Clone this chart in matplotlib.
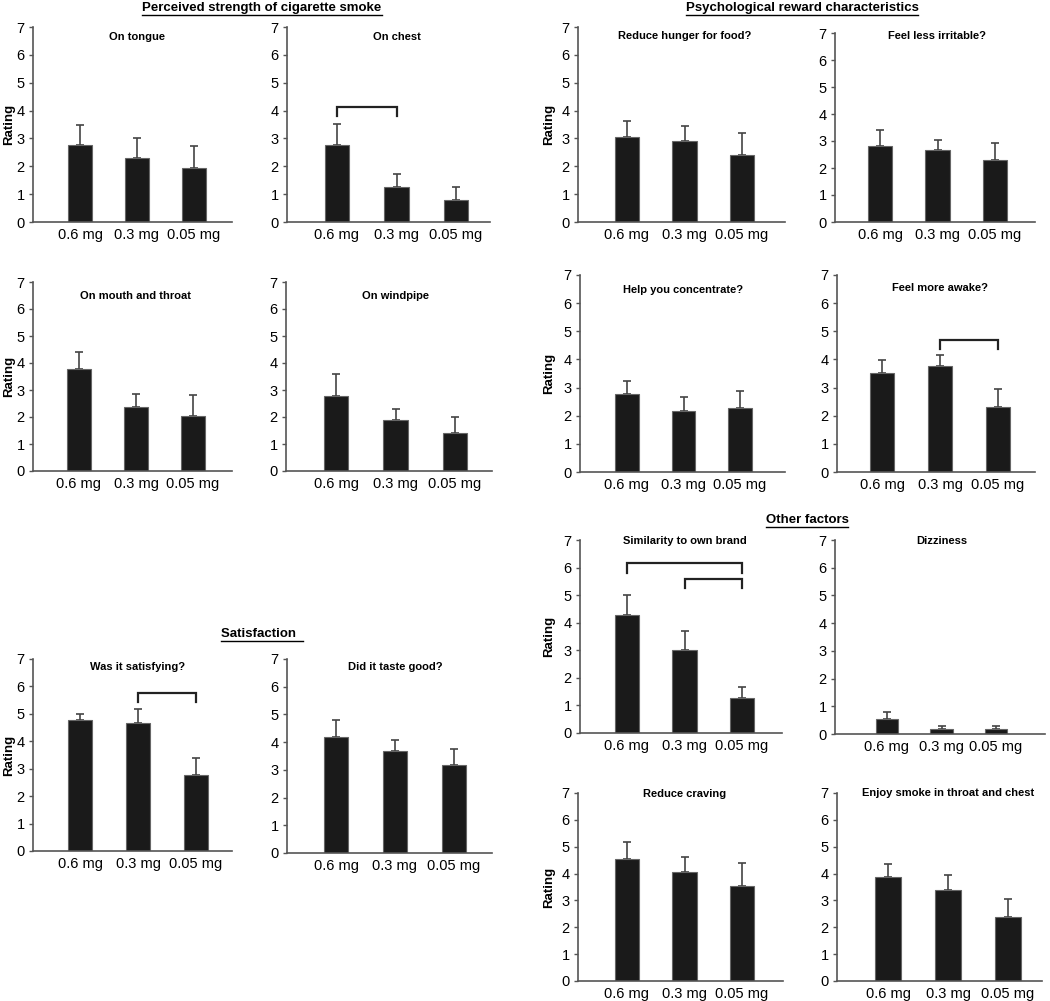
import numpy as np
import matplotlib
matplotlib.use('Agg')
import matplotlib.pyplot as plt
from matplotlib.lines import Line2D

plt.rcParams['font.family'] = ['Liberation Sans', 'DejaVu Sans']

doses = ['0.6 mg', '0.3 mg', '0.05 mg']

# means and upper error (SEM)
tongue = [2.78, 2.31, 1.93]
tongue_err = [0.71, 0.72, 0.79]
chest = [2.78, 1.27, 0.79]
chest_err = [0.75, 0.46, 0.47]
mouth = [3.76, 2.38, 2.02]
mouth_err = [0.65, 0.47, 0.80]
windpipe = [2.78, 1.90, 1.41]
windpipe_err = [0.80, 0.41, 0.60]

hunger = [3.04, 2.90, 2.40]
hunger_err = [0.58, 0.56, 0.78]
irritable = [2.81, 2.68, 2.28]
irritable_err = [0.59, 0.36, 0.66]
concentrate = [2.78, 2.15, 2.28]
concentrate_err = [0.46, 0.52, 0.61]
awake = [3.51, 3.76, 2.30]
awake_err = [0.48, 0.41, 0.65]

satisfying = [4.79, 4.66, 2.77]
satisfying_err = [0.22, 0.51, 0.62]
taste = [4.20, 3.69, 3.18]
taste_err = [0.61, 0.39, 0.58]

similarity = [4.27, 3.02, 1.26]
similarity_err = [0.75, 0.67, 0.41]
dizziness = [0.55, 0.17, 0.17]
dizziness_err = [0.26, 0.12, 0.12]
craving = [4.56, 4.05, 3.52]
craving_err = [0.61, 0.58, 0.88]
enjoy = [3.88, 3.40, 2.39]
enjoy_err = [0.47, 0.55, 0.65]

# significance brackets: (from bar, to bar, height, foot)
chest_sig = [(0, 1, 4.13, 3.80)]
awake_sig = [(1, 2, 4.70, 4.38)]
satisfying_sig = [(1, 2, 5.76, 5.45)]
similarity_sig = [(0, 2, 6.17, 5.81), (1, 2, 5.60, 5.27)]

W, H = 1050, 1001
fig = plt.figure(figsize=(W / 100, H / 100), dpi=100)

DARK = '#1a1a1a'
GREY = '#555555'


def panel(box, title, means, errs, rating_x=None, sig=(), title_dy=10):
    # box = left, right, top, bottom, first bar centre, last bar centre (pixels)
    x0, x1, top, bot, c0, c2 = box
    ax = fig.add_axes([x0 / W, 1 - bot / H, (x1 - x0) / W, (bot - top) / H])
    s = (c2 - c0) / 2
    x = np.arange(3)
    ax.bar(x, means, width=0.42, color=DARK, edgecolor='#666666', linewidth=0.8, zorder=2)
    ax.errorbar(x, means, yerr=[np.zeros(3), errs], fmt='none', ecolor='#444444',
                elinewidth=1.2, capsize=3, capthick=1.2, zorder=1)
    for a, b, h, foot in sig:
        ax.plot([a, a, b, b], [foot, h, h, foot], color='#222222', lw=1.6,
                solid_joinstyle='miter', zorder=3)
    ax.set_xlim((x0 - c0) / s, (x1 - c0) / s)
    ax.set_ylim(0, 7)
    ax.set_yticks(range(8))
    ax.set_xticks(x)
    ax.set_xticklabels(doses)
    for side in ('top', 'right'):
        ax.spines[side].set_visible(False)
    for side in ('left', 'bottom'):
        ax.spines[side].set_color(GREY)
        ax.spines[side].set_linewidth(1.2)
    ax.tick_params(axis='y', length=3, width=1, color=GREY, labelsize=10.5, pad=3)
    ax.tick_params(axis='x', length=0, labelsize=10.5, pad=4)
    if rating_x is not None:
        # label anchor is its right edge once rotated
        ax.set_ylabel('Rating', fontsize=9.5, fontweight='bold')
        ax.yaxis.set_label_coords((rating_x + 7 - x0) / (x1 - x0), 0.5)
    ax.text(1, 1 - title_dy / (bot - top), title, transform=ax.get_xaxis_transform(),
            ha='center', va='center', fontsize=8, fontweight='bold')
    return ax


panel((33, 232, 27, 222, 80, 194), 'On tongue', tongue, tongue_err, 8, title_dy=10)
panel((287, 490, 27, 222, 337, 456), 'On chest', chest, chest_err, sig=chest_sig, title_dy=10)
panel((33, 232, 282, 471, 79, 193), 'On mouth and throat', mouth, mouth_err, 8, title_dy=14)
panel((286, 492, 282, 471, 336, 455), 'On windpipe', windpipe, windpipe_err, title_dy=14)

panel((578, 785, 27, 222, 627, 742), 'Reduce hunger for food?', hunger, hunger_err, 548, title_dy=9)
panel((835, 1035, 33, 222, 880, 995), 'Feel less irritable?', irritable, irritable_err, title_dy=3)
panel((580, 785, 275, 472, 627, 740), 'Help you concentrate?', concentrate, concentrate_err, 548,
      title_dy=15)
panel((837, 1035, 275, 472, 882, 998), 'Feel more awake?', awake, awake_err, sig=awake_sig, title_dy=13)

panel((33, 232, 659, 851, 80, 196), 'Was it satisfying?', satisfying, satisfying_err, 8,
      sig=satisfying_sig, title_dy=8)
panel((287, 492, 659, 853, 336, 454), 'Did it taste good?', taste, taste_err, title_dy=8)

panel((580, 782, 540, 733, 627, 742), 'Similarity to own brand', similarity, similarity_err, 548,
      sig=similarity_sig, title_dy=1)
panel((835, 1045, 540, 734, 887, 996), 'Dizziness', dizziness, dizziness_err, title_dy=1)
panel((578, 783, 793, 981, 627, 742), 'Reduce craving', craving, craving_err, 548, title_dy=1)
panel((837, 1042, 793, 981, 888, 1008), 'Enjoy smoke in throat and chest', enjoy, enjoy_err, title_dy=0)

# underlined section headings
headings = [
    ('Perceived strength of cigarette smoke', 262, 8),
    ('Psychological reward characteristics', 802, 8),
    ('Satisfaction  ', 262, 634),
    ('Other factors', 807, 520),
]
texts = []
for label, px, py in headings:
    t = fig.text(px / W, 1 - py / H, label, ha='center', va='center',
                 fontsize=9.5, fontweight='bold')
    texts.append(t)

fig.canvas.draw()
renderer = fig.canvas.get_renderer()
for t in texts:
    bb = t.get_window_extent(renderer)
    yline = (bb.y0 - 0.5) / fig.bbox.height
    fig.add_artist(Line2D([bb.x0 / fig.bbox.width, bb.x1 / fig.bbox.width], [yline, yline],
                          color='black', lw=1.0, transform=fig.transFigure))

fig.savefig('out.png', dpi=100)
